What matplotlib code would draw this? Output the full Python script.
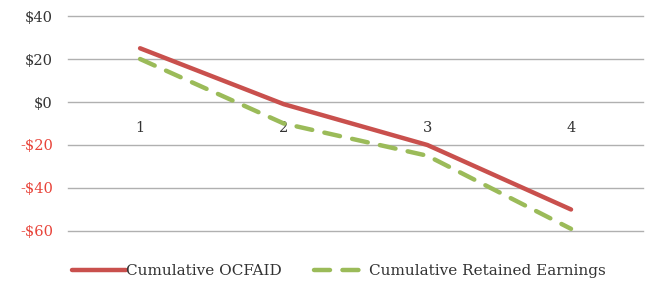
import matplotlib
matplotlib.use("Agg")
import matplotlib.pyplot as plt

plt.rcParams["font.family"] = ["DejaVu Serif"]

periods = [1, 2, 3, 4]
ocfaid = [25, -1, -20, -50]
retained = [20, -10, -25, -59]
yticks = [40, 20, 0, -20, -40, -60]

RED = "#c9504d"
GREEN = "#9bbb59"

fig = plt.figure(figsize=(6.5, 2.81), dpi=100)
ax = fig.add_axes([0.105, 0.178, 0.884, 0.765])

ax.plot(periods, ocfaid, color=RED, lw=3.2, solid_capstyle="round",
        label="Cumulative OCFAID", zorder=3)
ax.plot(periods, retained, color=GREEN, lw=3.2, dashes=(3.6, 2.8),
        dash_capstyle="round", label="Cumulative Retained Earnings", zorder=3)

ax.set_xlim(0.5, 4.5)
ax.set_ylim(-60, 40)
ax.set_yticks(yticks)
ax.set_yticklabels([("-$%d" % -v) if v < 0 else "$%d" % v for v in yticks])
for lbl, v in zip(ax.get_yticklabels(), yticks):
    lbl.set_color("#e8443a" if v < 0 else "#333333")
ax.tick_params(axis="y", length=0, pad=11, labelsize=10.5)
ax.grid(axis="y", color="#b0b0b0", lw=1.0)
for gl in ax.get_ygridlines():
    gl.set_clip_on(False)
ax.set_axisbelow(True)

# x axis crosses at zero, labels just below it
ax.spines["bottom"].set_position(("data", 0))
ax.spines["bottom"].set_visible(False)
for s in ["top", "right", "left"]:
    ax.spines[s].set_visible(False)
ax.set_xticks(periods)
ax.tick_params(axis="x", length=0, pad=14, labelsize=10.5, labelcolor="#333333")

fig.legend(loc="lower left", bbox_to_anchor=(0.09, -0.04), ncol=2, frameon=False,
           handlelength=3.5, handletextpad=0.05, columnspacing=2.1,
           prop={"size": 11}, labelcolor="#333333")

fig.savefig("out.png", dpi=100, facecolor="white")
